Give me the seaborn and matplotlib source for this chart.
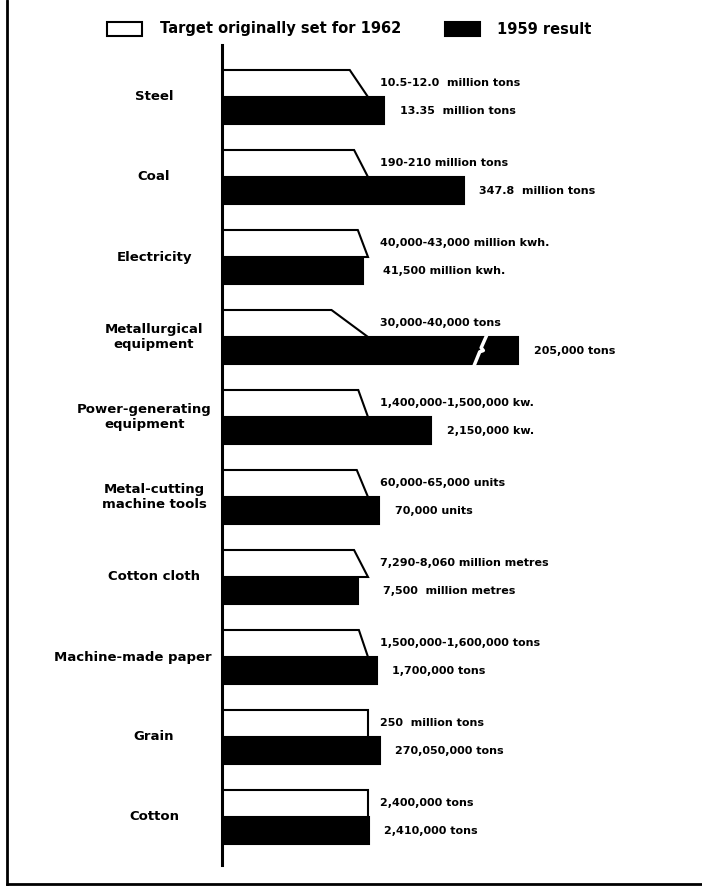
import numpy as np
import pandas as pd
import matplotlib
matplotlib.use("Agg")
import matplotlib.pyplot as plt
from matplotlib.lines import Line2D
import seaborn as sns

# Datos
categories = ["Steel", "Coal", "Electricity", "Metallurgical\nequipment",
              "Power-generating\nequipment", "Metal-cutting\nmachine tools",
              "Cotton cloth", "Machine-made paper", "Grain", "Cotton"]
target_low = [10.5, 190, 40000, 30000, 1400000, 60000, 7290, 1500000, 250, 2400000]
target_high = [12.0, 210, 43000, 40000, 1500000, 65000, 8060, 1600000, 250, 2400000]
result_1959 = [13.35, 347.8, 41500, 205000, 2150000, 70000, 7500, 1700000, 270.05, 2410000]
target_text = ["10.5-12.0  million tons", "190-210 million tons", "40,000-43,000 million kwh.",
               "30,000-40,000 tons", "1,400,000-1,500,000 kw.", "60,000-65,000 units",
               "7,290-8,060 million metres", "1,500,000-1,600,000 tons", "250  million tons",
               "2,400,000 tons"]
result_text = ["13.35  million tons", "347.8  million tons", "41,500 million kwh.",
               "205,000 tons", "2,150,000 kw.", "70,000 units", "7,500  million metres",
               "1,700,000 tons", "270,050,000 tons", "2,410,000 tons"]
series = ["Target originally set for 1962", "1959 result"]
break_at = 2.03  # la barra de equipo metalúrgico va cortada


def main():
    sns.set_style("white")
    plt.rcParams["font.family"] = ["DejaVu Sans"]
    plt.rcParams["text.color"] = "black"

    # Todo se escala respecto al objetivo máximo de cada categoría
    low = np.array(target_low) / np.array(target_high)
    res = np.array(result_1959) / np.array(target_high)
    shown = np.minimum(res, break_at)

    df = pd.DataFrame({
        "category": categories * 2,
        "series": [series[0]] * len(categories) + [series[1]] * len(categories),
        "ratio": list(np.ones(len(categories))) + list(shown),
    })

    fig = plt.figure(figsize=(7.02, 8.86), dpi=100)
    W, H = 702, 886
    ax = fig.add_axes([222 / W, 21 / H, 480 / W, 820 / H])

    sns.barplot(data=df, y="category", x="ratio", hue="series", orient="h",
                palette={series[0]: "white", series[1]: "black"},
                edgecolor="black", linewidth=1.5, width=0.675, ax=ax)

    ax.set_xlim(0, 480 / 146)
    ax.set_ylim(len(categories) - 0.4, -0.65)
    for s in ["top", "right", "bottom"]:
        ax.spines[s].set_visible(False)
    ax.spines["left"].set_linewidth(2.2)
    ax.spines["left"].set_color("black")
    ax.set_xticks([])
    ax.set_yticks([])
    ax.set_xlabel("")
    ax.set_ylabel("")

    # Barras del objetivo con el extremo inclinado (rango bajo-alto)
    target_bars = ax.containers[0]
    result_bars = ax.containers[1]
    for i, p in enumerate(target_bars.patches):
        p.set_visible(False)
        y0, h = p.get_y(), p.get_height()
        ax.fill([0, low[i], 1.0, 0], [y0, y0, y0 + h, y0 + h],
                facecolor="white", edgecolor="black", linewidth=1.5, zorder=2)

    # Marca de corte en la barra cortada
    for i, p in enumerate(result_bars.patches):
        if res[i] > break_at:
            y0, h = p.get_y(), p.get_height()
            xb = break_at - 0.26
            xs = [xb - 0.05, xb - 0.005, xb + 0.02, xb + 0.005, xb + 0.05]
            ys = [y0 + h + 0.05, y0 + h * 0.55, y0 + h * 0.5, y0 + h * 0.4, y0 - 0.05]
            ax.plot(xs, ys, color="white", linewidth=2.5, zorder=5)

    # Etiquetas de valores
    for i, cat in enumerate(categories):
        pt = target_bars.patches[i]
        pr = result_bars.patches[i]
        ax.annotate(target_text[i], (1.0, pt.get_y() + pt.get_height() / 2),
                    xytext=(9, 0), textcoords="offset points", va="center",
                    ha="left", fontsize=8, fontweight="bold")
        ax.annotate(result_text[i], (max(shown[i], 1.0), pr.get_y() + pr.get_height() / 2),
                    xytext=(11, 0), textcoords="offset points", va="center",
                    ha="left", fontsize=8, fontweight="bold")

    # Nombres de categorías a la izquierda del eje
    fig.canvas.draw()
    renderer = fig.canvas.get_renderer()
    tr = matplotlib.transforms.blended_transform_factory(fig.transFigure, ax.transData)
    for i, cat in enumerate(categories):
        t = fig.text(154 / W, i, cat, ha="center", va="center", fontsize=9.5,
                     fontweight="bold", linespacing=1.25, transform=tr)
        bb = t.get_window_extent(renderer)
        if bb.x1 > 212:
            t.set_x((154 - (bb.x1 - 212)) / W)

    # Leyenda arriba
    handles, labels = ax.get_legend_handles_labels()
    ax.get_legend().remove()
    fig.legend(handles, labels, loc="center left", bbox_to_anchor=(107 / W, 1 - 29 / H),
               ncol=2, frameon=False, borderpad=0, borderaxespad=0,
               handlelength=2.4, handleheight=1.1, handletextpad=1.2,
               columnspacing=3.0, prop={"weight": "bold", "size": 10.5})

    # Marco de la lámina
    fig.add_artist(Line2D([7 / W, 7 / W], [0, 1], transform=fig.transFigure,
                          color="black", linewidth=2))
    fig.add_artist(Line2D([7 / W, 1], [2 / H, 2 / H], transform=fig.transFigure,
                          color="black", linewidth=2))

    fig.savefig("out.png", dpi=100)


if __name__ == "__main__":
    main()
